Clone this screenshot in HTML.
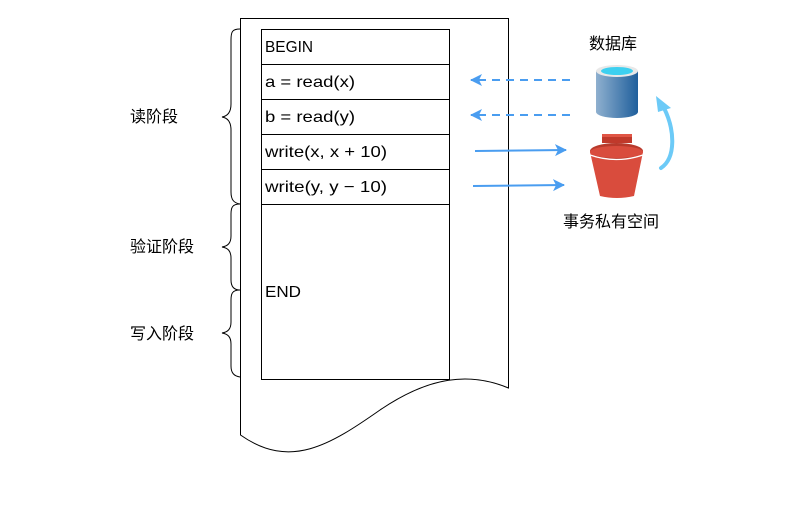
<!DOCTYPE html>
<html><head><meta charset="utf-8"><style>
body{margin:0;background:#fff;}
svg text{font-family:"Liberation Sans","Noto Sans CJK SC",sans-serif;}
</style></head><body>
<svg width="800" height="500" viewBox="0 0 800 500" xmlns="http://www.w3.org/2000/svg">
<defs>
<linearGradient id="cyl" x1="0" x2="1"><stop offset="0" stop-color="#8fb0cf"/><stop offset="1" stop-color="#1f5f9c"/></linearGradient>
<marker id="ah" markerWidth="14" markerHeight="14" refX="11" refY="6" orient="auto" markerUnits="userSpaceOnUse"><path d="M0,0 L12,6 L0,12 L3,6 Z" fill="#4a9df0"/></marker>
</defs>
<path d="M240.5,18.5 L508.5,18.5 L508.5,388 C470,372 430,376 380,410 C330,445 290,470 240.5,435 Z" fill="#fff" stroke="#000" stroke-width="1"/>
<g fill="none" stroke="#000" stroke-width="1">
<rect x="261.5" y="29.5" width="188" height="350"/>
<line x1="261.5" y1="64.5" x2="449.5" y2="64.5"/>
<line x1="261.5" y1="99.5" x2="449.5" y2="99.5"/>
<line x1="261.5" y1="134.5" x2="449.5" y2="134.5"/>
<line x1="261.5" y1="169.5" x2="449.5" y2="169.5"/>
<line x1="261.5" y1="204.5" x2="449.5" y2="204.5"/>
</g>
<g font-size="16" fill="#000">
<text x="265" y="52" textLength="48" lengthAdjust="spacingAndGlyphs">BEGIN</text>
<text x="265" y="87" textLength="90" lengthAdjust="spacingAndGlyphs">a = read(x)</text>
<text x="265" y="122" textLength="90" lengthAdjust="spacingAndGlyphs">b = read(y)</text>
<text x="265" y="157" textLength="122" lengthAdjust="spacingAndGlyphs">write(x, x + 10)</text>
<text x="265" y="192" textLength="122" lengthAdjust="spacingAndGlyphs">write(y, y − 10)</text>
<text x="265" y="297" textLength="36" lengthAdjust="spacingAndGlyphs">END</text>
</g>
<g fill="none" stroke="#000" stroke-width="1">
<path d="M240,29 C232,29 231,32 231,40 L231,104 C231,112 228,116 222,117 C228,118 231,122 231,130 L231,192 C231,200 234,203 240,204"/>
<path d="M240,204 C232,204 231,208 231,214 L231,236 C231,243 228,246 222,247 C228,248 231,251 231,258 L231,280 C231,287 234,290 240,290"/>
<path d="M240,290 C232,290 231,294 231,300 L231,322 C231,329 228,332 222,333 C228,334 231,337 231,344 L231,366 C231,373 234,376 240,377"/>
</g>
<g font-size="16" fill="#000">
<text x="130" y="122">读阶段</text>
<text x="130" y="252">验证阶段</text>
<text x="130" y="339">写入阶段</text>
</g>
<g stroke="#4a9df0" stroke-width="2" fill="none">
<line x1="570" y1="80" x2="471" y2="80" stroke-dasharray="8,6" marker-end="url(#ah)"/>
<line x1="570" y1="115" x2="471" y2="115" stroke-dasharray="8,6" marker-end="url(#ah)"/>
<line x1="475" y1="151" x2="566" y2="150" marker-end="url(#ah)"/>
<line x1="473" y1="186" x2="564" y2="185" marker-end="url(#ah)"/>
</g>
<text x="589" y="49" font-size="16">数据库</text>
<path d="M596,71 L596,112 A21,6 0 0 0 638,112 L638,71 Z" fill="url(#cyl)"/>
<ellipse cx="617" cy="71" rx="21" ry="6" fill="#e8e8e8"/>
<ellipse cx="617" cy="71" rx="16" ry="4" fill="#3dd0f0"/>
<path d="M602,134 L632,134 L632,143 L602,143 Z" fill="#c0392b"/>
<rect x="602" y="134" width="30" height="3" fill="#e05545"/>
<path d="M590,152 L643,152 L634,196 Q617,200 600,196 Z" fill="#d94c3d"/>
<ellipse cx="616.5" cy="151" rx="26.5" ry="8" fill="#b83a2c"/>
<ellipse cx="616.5" cy="152" rx="26.5" ry="6" fill="#d94c3d"/>
<path d="M590,155 Q616,164 643,155" stroke="#fff" stroke-width="1.3" fill="none"/>
<text x="563" y="227" font-size="16">事务私有空间</text>
<path d="M661,168 C676,158 675,130 664,108" stroke="#6ccaf7" stroke-width="4" fill="none" stroke-linecap="round"/>
<path d="M656,96 L671,108 L658,112 Z" fill="#6ccaf7"/>
</svg>
</body></html>
